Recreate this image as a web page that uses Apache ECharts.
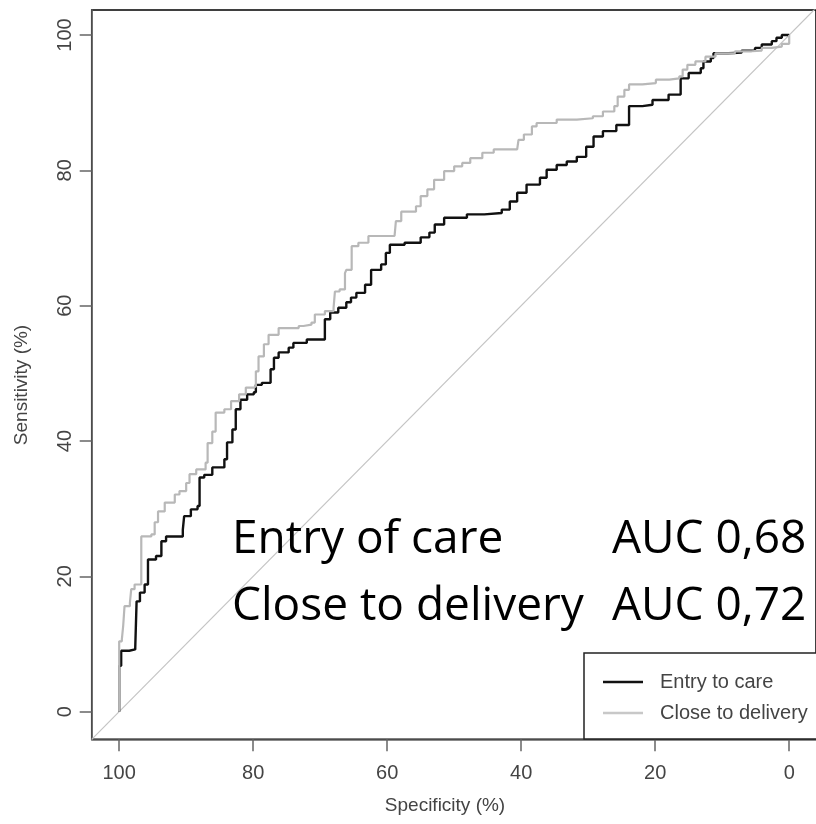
<!DOCTYPE html>
<html><head><meta charset="utf-8">
<script src="https://cdn.jsdelivr.net/npm/echarts@6/dist/echarts.min.js"></script>
<style>html,body{margin:0;padding:0;background:#fff}#c{width:816px;height:824px}</style>
</head><body><div id="c"></div>
<script>
// Tick labels (both axes, percent)
const tickValues = [0, 20, 40, 60, 80, 100];
const seriesNames = ['Entry to care', 'Close to delivery'];
const annotationLines = [['Entry of care', 'AUC 0,68'], ['Close to delivery', 'AUC 0,72']];

// ROC curve vertices: [specificity %, sensitivity %]
const entryToCare = [
  [100,0],[100,6.8],[99.7,6.8],[99.7,9.0],[98.5,9.2],[97.6,9.5],[97.4,16.3],[96.9,17.6],[96.2,18.8],
  [95.7,22.5],[94.5,23.0],[93.7,25.2],[93.0,25.9],[90.5,26.9],[90.3,28.9],[89.3,29.9],[88.3,30.4],
  [88.0,34.6],[87.3,35.0],[86.1,36.1],[84.3,37.3],[83.9,39.8],[83.1,41.7],[82.6,44.7],[81.9,46.1],
  [80.9,46.9],[79.9,47.2],[79.6,48.3],[78.7,48.6],[77.4,50.6],[76.9,52.3],[76.2,53.1],[74.7,53.8],
  [74.0,54.5],[72.0,55.0],[69.3,55.0],[69.3,58.0],[68.5,59.0],[67.3,59.7],[66.1,60.5],[65.4,61.2],
  [64.6,61.9],[63.3,63.1],[62.4,65.3],[60.9,66.1],[60.2,67.8],[59.6,69.0],[57.4,69.3],[55.0,70.1],
  [53.7,70.8],[52.9,72.0],[51.5,73.0],[48.1,73.5],[45.5,73.7],[42.9,74.2],[41.7,75.4],[40.6,76.7],
  [39.2,77.9],[37.2,78.9],[36.2,80.1],[34.7,80.8],[33.2,81.3],[31.7,82.0],[30.3,83.5],[29.2,85.0],
  [27.8,85.8],[25.8,86.7],[23.9,86.7],[23.9,89.5],[21.9,89.7],[20.4,90.4],[18.0,91.2],[16.2,91.7],
  [16.2,93.6],[15.0,94.4],[13.2,95.1],[12.8,96.1],[11.7,96.6],[11.3,97.3],[9.1,97.4],[7.1,97.7],
  [5.1,98.1],[4.1,98.6],[2.6,99.1],[1.9,99.6],[1.1,100],[0,100]
];
const closeToDelivery = [
  [100,0],[100,10.4],[99.6,10.7],[99.4,12.7],[99.2,15.6],[98.4,16.1],[98.2,18.1],[97.7,18.8],
  [96.7,19.2],[96.7,25.9],[95.2,26.2],[94.7,28.0],[94.2,29.6],[93.2,30.9],[91.7,32.1],[91.0,32.6],
  [90.0,33.8],[89.5,35.1],[88.5,35.8],[87.1,36.8],[86.8,39.7],[86.1,41.4],[85.6,44.2],[84.3,44.7],
  [83.3,45.9],[82.1,46.9],[81.1,47.9],[79.9,48.1],[79.6,50.3],[79.2,52.5],[78.4,54.3],[77.7,55.7],
  [76.2,56.7],[73.2,57.0],[72.5,57.2],[71.3,57.5],[70.8,58.7],[69.3,59.2],[68.0,59.7],[67.8,62.1],
  [67.1,62.4],[66.3,64.8],[66.1,65.3],[65.3,65.8],[65.3,68.8],[64.3,69.3],[62.8,70.3],[58.9,70.3],
  [58.7,72.5],[57.9,73.9],[55.7,74.7],[55.0,76.2],[54.0,77.2],[53.0,78.6],[51.5,79.9],[50.0,80.6],
  [48.8,81.1],[47.6,81.8],[45.8,82.6],[44.1,83.1],[40.6,83.3],[40.4,84.5],[39.6,85.3],[38.4,86.5],
  [37.7,87.0],[34.7,87.5],[31.7,87.7],[29.3,88.0],[27.8,88.7],[26.1,89.5],[25.6,90.9],[24.6,91.9],
  [23.9,92.7],[21.9,92.9],[19.9,93.4],[17.9,93.6],[16.4,93.9],[15.9,94.9],[15.2,95.6],[14.0,96.1],
  [12.5,96.8],[11.0,97.3],[8.1,97.6],[5.6,97.7],[4.1,98.1],[2.6,98.3],[1.1,98.7],[0,98.7],[0,100]
];
const chanceLine = [[104.1, -4.1], [-4.1, 104.1]];

const axisGray = '#666';
const labelGray = '#444';
const chart = echarts.init(document.getElementById('c'), null, {renderer: 'canvas'});
chart.setOption({
  animation: false,
  backgroundColor: '#fff',
  grid: {left: 91.7, top: 10, right: -5.3, bottom: 84.7, show: true, borderColor: '#000', borderWidth: 1.5, backgroundColor: 'transparent'},
  xAxis: {
    type: 'value', inverse: true, min: -4, max: 104.1,
    axisLine: {show: true, onZero: false, lineStyle: {color: axisGray, width: 1.5}},
    axisTick: {show: true, length: 12, inside: false, customValues: tickValues, lineStyle: {color: axisGray, width: 1.5}},
    axisLabel: {customValues: tickValues, color: labelGray, fontSize: 20, fontFamily: 'Liberation Sans, Arial, sans-serif', margin: 24},
    splitLine: {show: false}
  },
  yAxis: {
    type: 'value', min: -4.08, max: 103.7,
    axisLine: {show: true, onZero: false, lineStyle: {color: axisGray, width: 1.5}},
    axisTick: {show: true, length: 12, inside: false, customValues: tickValues, lineStyle: {color: axisGray, width: 1.5}},
    axisLabel: {customValues: tickValues, rotate: 90, color: labelGray, fontSize: 20, fontFamily: 'Liberation Sans, Arial, sans-serif', margin: 16},
    splitLine: {show: false}
  },
  legend: {
    orient: 'vertical', left: 584, top: 653, padding: [19, 20, 16, 19],
    itemGap: 11, itemWidth: 40, itemHeight: 2.5, icon: 'rect',
    borderColor: '#222', borderWidth: 1.5, backgroundColor: '#fff',
    selectedMode: false,
    textStyle: {fontSize: 20, color: '#444', fontFamily: 'Liberation Sans, Arial, sans-serif', padding: [0, 0, 0, 12]},
    data: seriesNames
  },
  series: [
    {type: 'line', name: 'chance', data: chanceLine, symbol: 'none', silent: true,
     lineStyle: {color: '#c4c4c4', width: 1.2}, z: 1},
    {type: 'line', name: seriesNames[0], data: entryToCare, symbol: 'none', step: 'end',
     lineStyle: {color: '#111', width: 2.4}, itemStyle: {color: '#111'}, z: 2},
    {type: 'line', name: seriesNames[1], data: closeToDelivery, symbol: 'none', step: 'end',
     lineStyle: {color: '#b8b8b8', width: 2.2}, itemStyle: {color: '#c8c8c8'}, z: 3}
  ],
  graphic: [
    {type: 'text', x: 445, y: 806, style: {text: 'Specificity (%)', fill: '#444', font: '19px "Liberation Sans", Arial, sans-serif', align: 'center', verticalAlign: 'middle'}},
    {type: 'text', x: 22, y: 385, rotation: Math.PI / 2, style: {text: 'Sensitivity (%)', fill: '#444', font: '19px "Liberation Sans", Arial, sans-serif', align: 'center', verticalAlign: 'middle'}},
    {type: 'text', x: 232, y: 540, z: 100, style: {text: annotationLines[0][0], fill: '#000', font: '46px "Open Sans", "Noto Sans", sans-serif', align: 'left', verticalAlign: 'middle'}},
    {type: 'text', x: 612, y: 540, z: 100, style: {text: annotationLines[0][1], fill: '#000', font: '46px "Open Sans", "Noto Sans", sans-serif', align: 'left', verticalAlign: 'middle'}},
    {type: 'text', x: 232, y: 607, z: 100, style: {text: annotationLines[1][0], fill: '#000', font: '46px "Open Sans", "Noto Sans", sans-serif', align: 'left', verticalAlign: 'middle'}},
    {type: 'text', x: 612, y: 607, z: 100, style: {text: annotationLines[1][1], fill: '#000', font: '46px "Open Sans", "Noto Sans", sans-serif', align: 'left', verticalAlign: 'middle'}}
  ]
});
</script></body></html>
